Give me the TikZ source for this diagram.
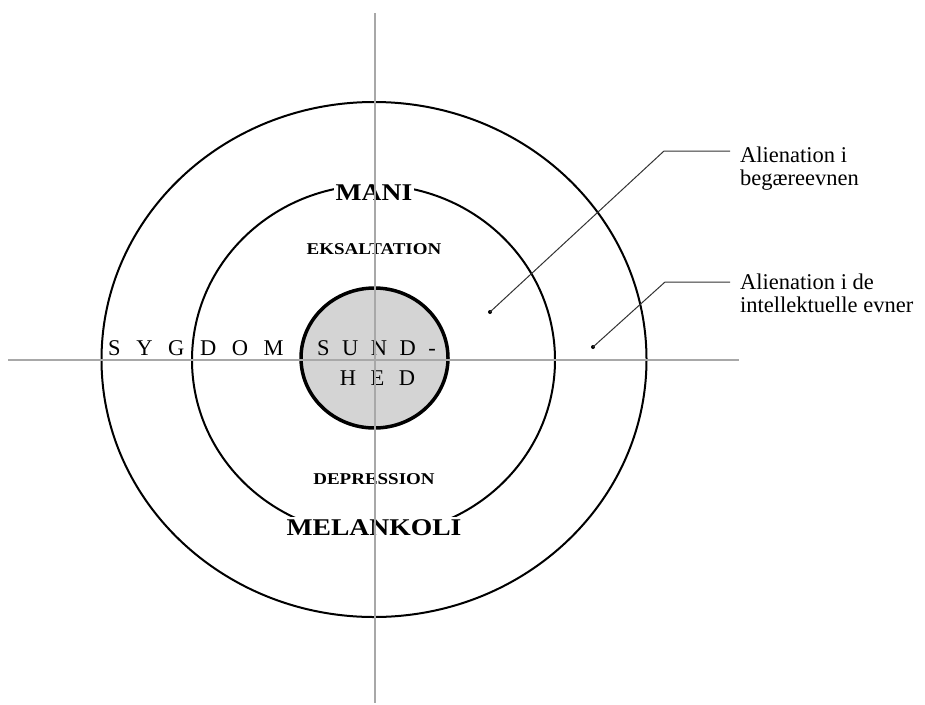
\documentclass[tikz,border=0pt]{standalone}
\usepackage{fontspec}
\usetikzlibrary{shapes.geometric}
\setmainfont{Liberation Serif}
\newfontfamily\widebold[FakeStretch=1.15]{Liberation Serif Bold}
\definecolor{axisgray}{HTML}{A8A8A8}
\definecolor{fillgray}{HTML}{D4D4D4}
\definecolor{leadgray}{HTML}{333333}
\newcommand\trkA{\kern15.6pt}
\newcommand\trkB{\kern12.5pt}
\newcommand\trkC{\kern14.4pt}
\begin{document}
\begin{tikzpicture}[x=1pt,y=-1pt,
  ring/.style={ellipse, draw=black, line width=2pt, inner sep=0pt},
  core/.style={ellipse, draw=black, line width=3.5pt, fill=fillgray, inner sep=0pt},
  axis/.style={draw=axisgray, line width=2pt},
  bigcap/.style={font=\widebold\fontsize{24}{24}\selectfont, fill=white, inner sep=2pt},
  smallcap/.style={font=\widebold\fontsize{16.5}{16.5}\selectfont, inner sep=0pt},
  spaced/.style={font=\fontsize{22.5}{22.5}\selectfont, inner sep=0pt},
  sidelabel/.style={font=\fontsize{22.5}{23}\selectfont, align=left, anchor=north west, inner sep=0pt},
  leader/.style={draw=leadgray, line width=1pt},
  dot/.style={circle, fill=black, inner sep=0pt, minimum size=4pt}
]
\useasboundingbox (0,0) rectangle (925,704);
\fill[white] (0,0) rectangle (925,704);

% rings
\node[ring, minimum width=545pt, minimum height=515pt] (outer) at (374,359.5) {};
\node[ring, minimum width=363pt, minimum height=350pt] (middle) at (373.5,360) {};
\node[core, minimum width=147pt, minimum height=140pt] (inner) at (374.5,358) {};

% ring labels
\node[bigcap, anchor=base] (mani) at (374,200) {MANI};
\node[bigcap, anchor=base] (melankoli) at (374,535) {MELANKOLI};
\node[smallcap, anchor=base] (eks) at (374,254) {EKSALTATION};
\node[smallcap, anchor=base] (dep) at (374,484) {DEPRESSION};

% axis words
\node[spaced, anchor=base west] (sygdom) at (108,355) {S\trkA Y\trkA G\trkA D\trkA O\trkA M};
\node[spaced, anchor=base west] (sund) at (317,355) {S\trkB U\trkB N\trkB D\trkB -};
\node[spaced, anchor=base] (hed) at (377.5,385) {H\trkC E\trkC D};

% axes
\coordinate (vtop) at (375,13);
\coordinate (vbot) at (375,703);
\coordinate (hleft) at (8,360);
\coordinate (hright) at (739,360);
\draw[axis] (vtop) -- (vbot);
\draw[axis] (hleft) -- (hright);

% side labels
\node[sidelabel] (lab1) at (740,146.5) {Alienation i\\beg\ae reevnen};
\node[sidelabel] (lab2) at (740,273.5) {Alienation i de\\intellektuelle evner};
\node[dot] (d1) at (490,312) {};
\node[dot] (d2) at (593,347) {};
\coordinate (k1) at (664,151);
\coordinate (k2) at (665,282);
\coordinate (e1) at (730,151);
\coordinate (e2) at (730,282);
\draw[leader] (d1.center) -- (k1) -- (e1);
\draw[leader] (d2.center) -- (k2) -- (e2);
\end{tikzpicture}
\end{document}
